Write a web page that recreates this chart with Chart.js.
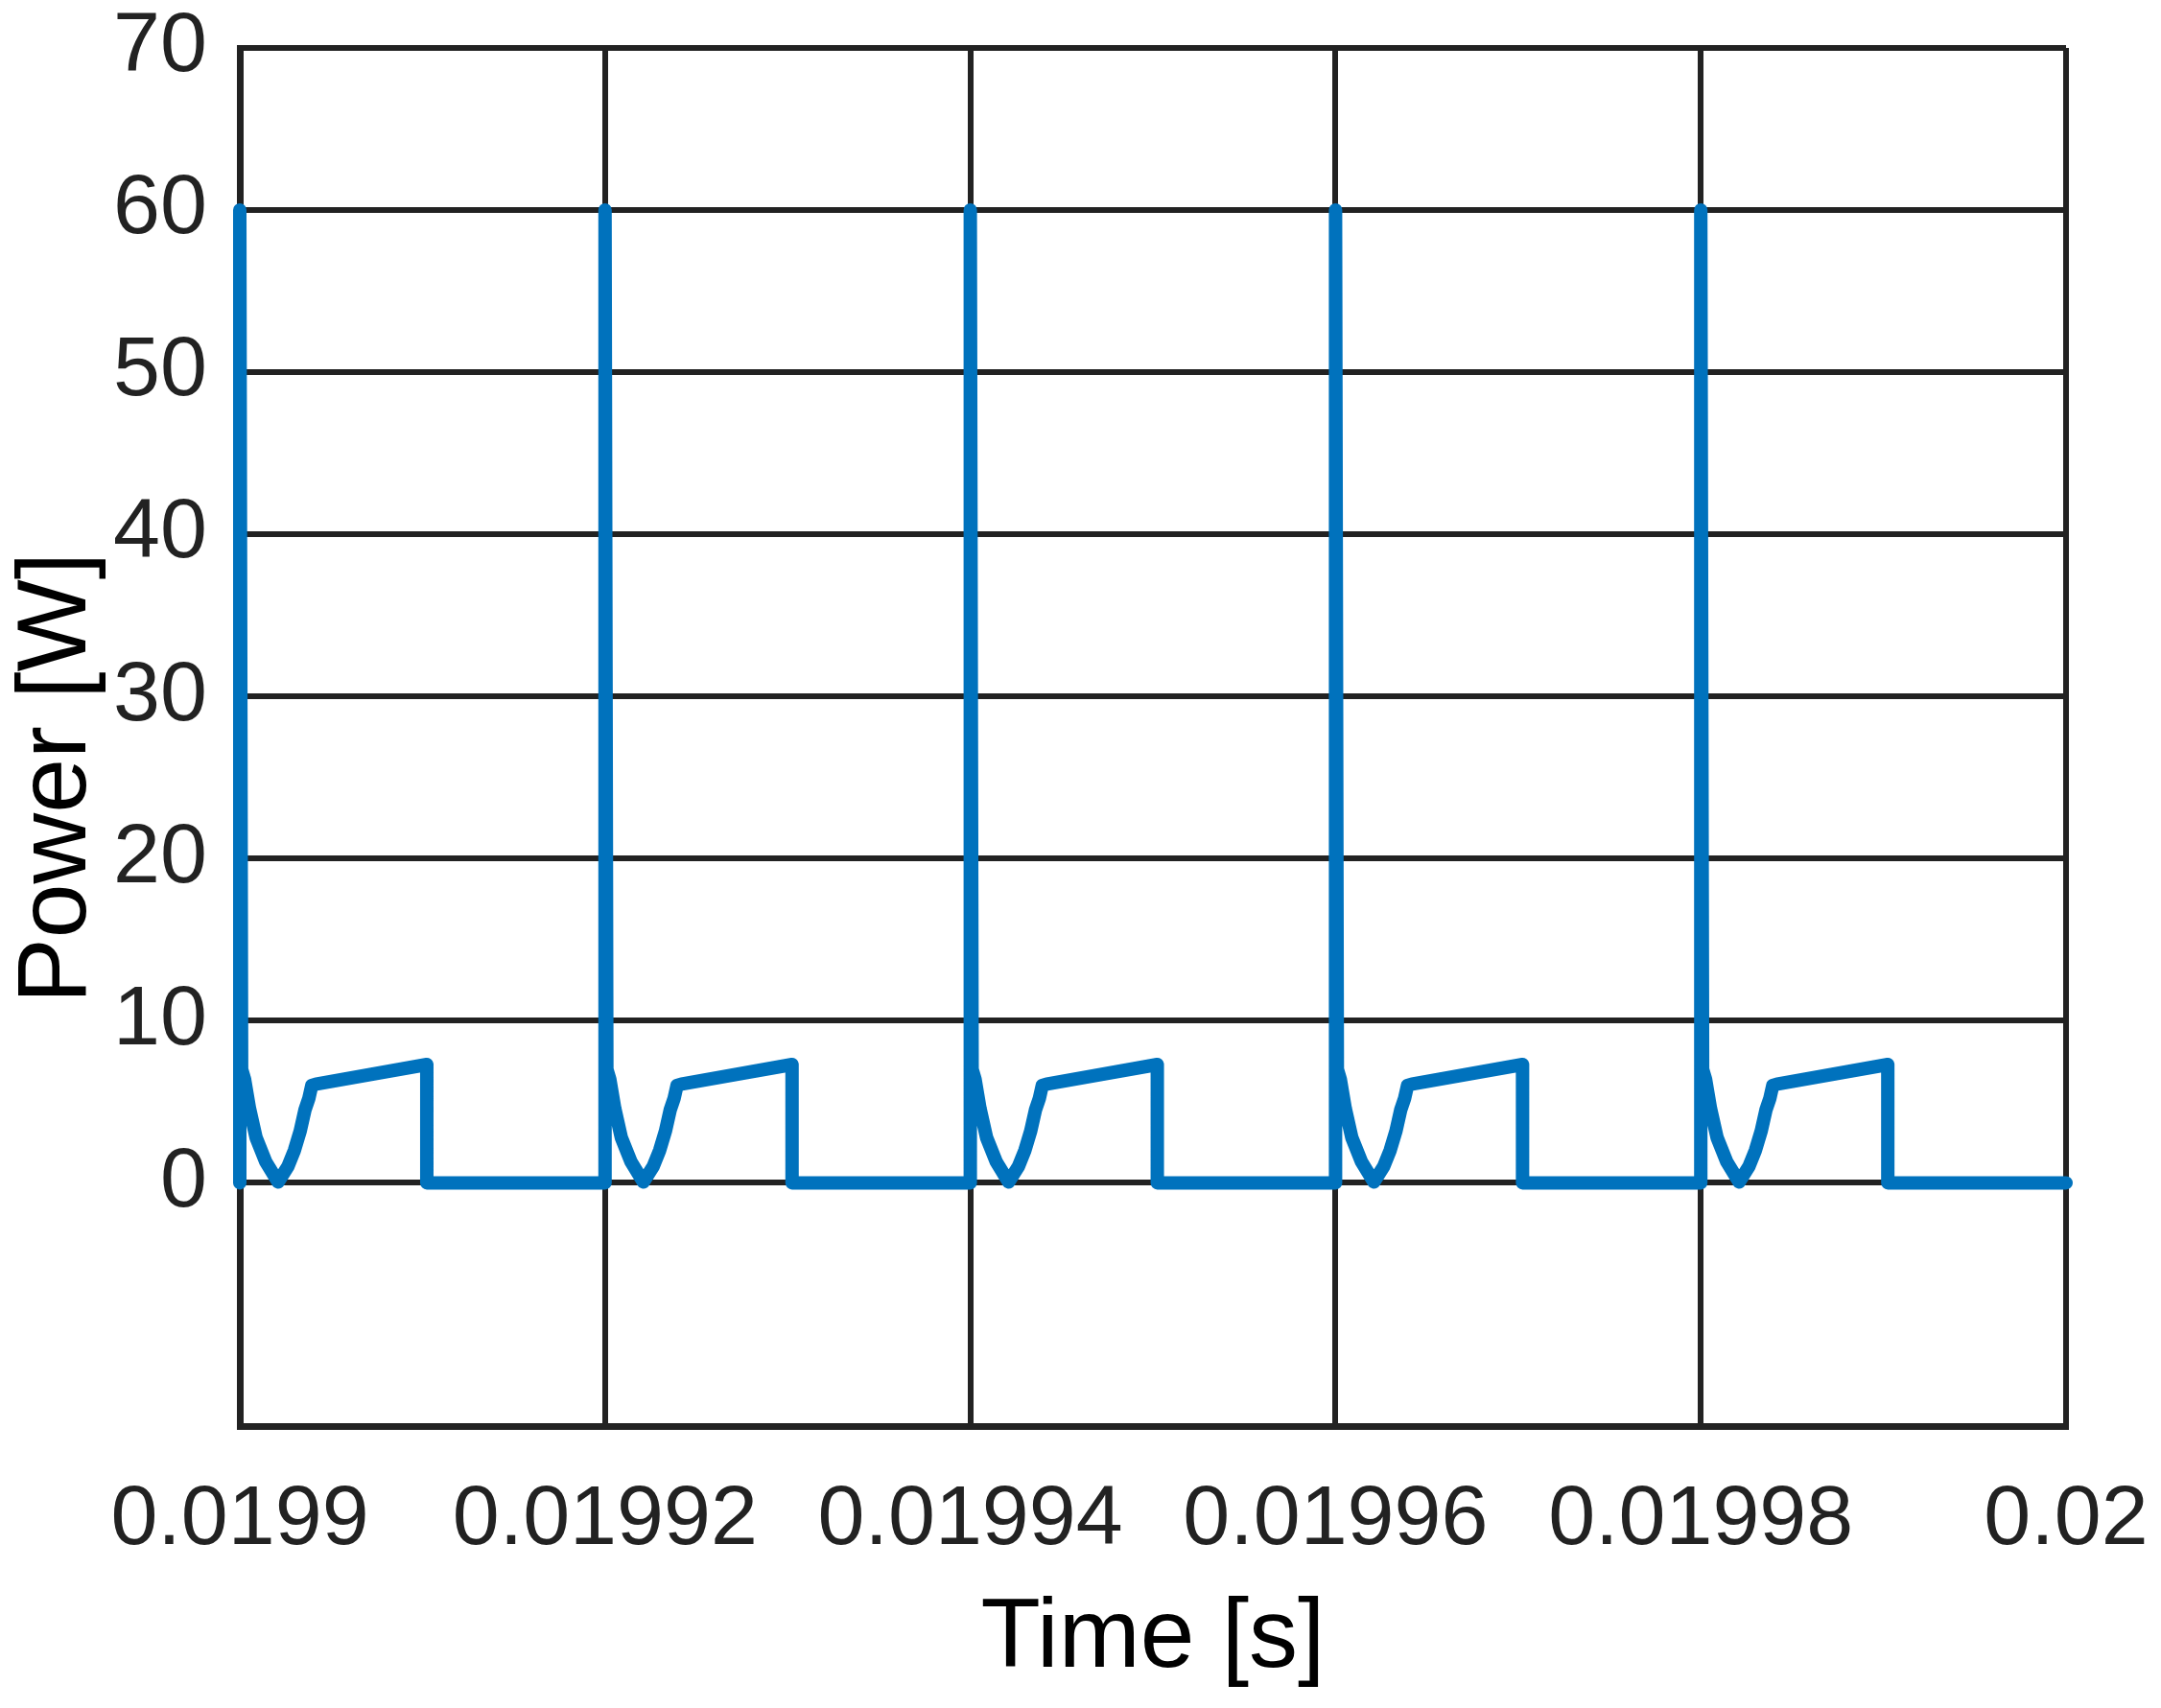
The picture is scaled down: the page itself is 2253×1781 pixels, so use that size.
<!DOCTYPE html>
<html>
<head>
<meta charset="utf-8">
<script src="https://cdn.jsdelivr.net/npm/chart.js@4.4.0/dist/chart.umd.min.js"></script>
<style>
  html, body { margin: 0; padding: 0; background: #fff; }
  #wrap { width: 2253px; height: 1781px; }
</style>
</head>
<body>
<div id="wrap"><canvas id="powerChart"></canvas></div>
<script>
// switching cycles start every 20 us
const cycleStarts = [0.0199, 0.01992, 0.01994, 0.01996, 0.01998];
// one cycle of the waveform (time offset in microseconds, power in W)
const cycleOffsetUs = [0, 0, 0.1, 0.26, 0.53, 0.89, 1.42, 2.1, 2.63, 2.99, 3.31, 3.57, 3.78, 3.94, 4.2, 10.24, 10.24];
const cyclePower    = [0, 60, 7.0, 6.4, 4.6, 2.8, 1.3, 0.05, 1.0, 2.0, 3.2, 4.5, 5.2, 6.0, 6.1, 7.3, 0];
const endTime = 0.02;

const xTicks = [0.0199, 0.01992, 0.01994, 0.01996, 0.01998, 0.02];
const xTickLabels = ['0.0199', '0.01992', '0.01994', '0.01996', '0.01998', '0.02'];
const yTicks = [-15, 0, 10, 20, 30, 40, 50, 60, 70];

const points = [];
cycleStarts.forEach(start => {
    cycleOffsetUs.forEach((us, i) => {
        points.push({ x: start + us * 1e-6, y: cyclePower[i] });
    });
});
points.push({ x: endTime, y: 0 });

const gridColor = '#222222';
const tickFont = { family: 'Liberation Sans, Arial, sans-serif', size: 88 };
const titleFont = { family: 'Liberation Sans, Arial, sans-serif', size: 102 };

const ctx = document.getElementById('powerChart').getContext('2d');
new Chart(ctx, {
    type: 'line',
    data: {
        datasets: [{
            data: points,
            borderColor: '#0072BD',
            borderWidth: 14,
            borderCapStyle: 'round',
            borderJoinStyle: 'round',
            pointRadius: 0,
            tension: 0,
            fill: false,
            clip: 20
        }]
    },
    options: {
        responsive: true,
        maintainAspectRatio: false,
        animation: false,
        layout: { padding: { top: 50, right: 99, bottom: 0, left: 0 } },
        plugins: { legend: { display: false }, tooltip: { enabled: false } },
        scales: {
            x: {
                type: 'linear',
                min: 0.0199,
                max: 0.02,
                afterBuildTicks: scale => { scale.ticks = xTicks.map(v => ({ value: v })); },
                afterFit: scale => {
                    scale.height = 294;
                    scale.paddingLeft = 0;
                    scale.paddingRight = 0;
                },
                ticks: {
                    autoSkip: false,
                    maxRotation: 0,
                    padding: 46,
                    color: '#222',
                    font: tickFont,
                    callback: (v, i) => xTickLabels[i]
                },
                grid: { color: gridColor, lineWidth: 6, drawTicks: false },
                border: { display: true, color: gridColor, width: 7 },
                title: {
                    display: true,
                    text: 'Time [s]',
                    color: '#000',
                    font: titleFont,
                    padding: { top: 0, bottom: 10 }
                }
            },
            y: {
                min: -15,
                max: 70,
                afterBuildTicks: scale => { scale.ticks = yTicks.map(v => ({ value: v })); },
                afterFit: scale => {
                    scale.width = 250;
                    scale.paddingTop = 0;
                    scale.paddingBottom = 0;
                },
                ticks: {
                    padding: 34,
                    color: '#222',
                    font: tickFont,
                    callback: v => (v === -15 ? '' : v)
                },
                grid: { color: gridColor, lineWidth: 6, drawTicks: false },
                border: { display: true, color: gridColor, width: 7 },
                title: {
                    display: true,
                    text: 'Power [W]   ',
                    color: '#000',
                    font: titleFont,
                    padding: { top: 0, bottom: 0 }
                }
            }
        }
    }
});
</script>
</body>
</html>
